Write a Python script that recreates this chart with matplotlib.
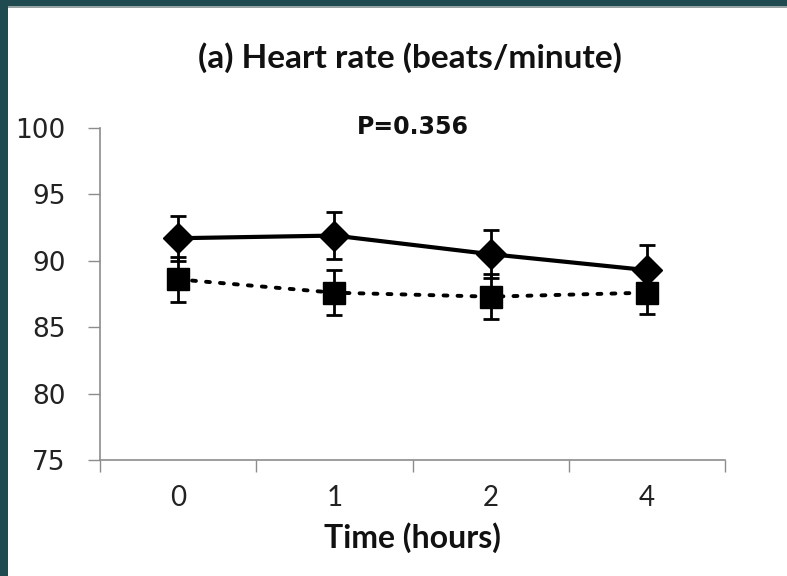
import matplotlib

matplotlib.use("Agg")
import matplotlib.pyplot as plt
from matplotlib.patches import Rectangle

# data
time_labels = ["0", "1", "2", "4"]
group_a_mean = [91.7, 91.9, 90.5, 89.3]
group_a_err = [1.7, 1.8, 1.8, 1.9]
group_b_mean = [88.6, 87.6, 87.3, 87.6]
group_b_err = [1.7, 1.7, 1.7, 1.6]
y_ticks = [75, 80, 85, 90, 95, 100]

BORDER = "#1f4a4f"
SPINE = "#8c8c8c"

fig = plt.figure(figsize=(7.87, 5.76), dpi=100)
fig.patch.set_facecolor("white")

# dark frame on the top and left edges
fig.patches.append(Rectangle((0, 1 - 6 / 576), 1, 6 / 576, transform=fig.transFigure,
                             facecolor=BORDER, edgecolor="none", zorder=0))
fig.patches.append(Rectangle((0, 1 - 8 / 576), 1, 2 / 576, transform=fig.transFigure,
                             facecolor="#9aa3a3", edgecolor="none", zorder=0))
fig.patches.append(Rectangle((0, 0), 8 / 787, 1, transform=fig.transFigure,
                             facecolor=BORDER, edgecolor="none", zorder=0))

ax = fig.add_axes([100 / 787, 1 - 460 / 576, 625 / 787, 332 / 576])
x_pos = list(range(len(time_labels)))

ax.errorbar(x_pos, group_b_mean, yerr=group_b_err, color="black", linestyle=(0, (1, 2.6)),
            linewidth=2.8, marker="s", markersize=16, capsize=6, capthick=2, elinewidth=2,
            dash_capstyle="round", zorder=3)
ax.errorbar(x_pos, group_a_mean, yerr=group_a_err, color="black", linestyle="-",
            linewidth=3, marker="D", markersize=15, capsize=6, capthick=2, elinewidth=2,
            zorder=4)

ax.set_xlim(-0.5, len(time_labels) - 0.5)
ax.set_ylim(75, 100)
ax.set_yticks(y_ticks)
ax.set_yticklabels([str(t) for t in y_ticks], fontsize=19, color="#222222",
                   family="DejaVu Sans")
ax.set_xticks(x_pos)
ax.set_xticklabels(time_labels, fontsize=20, color="#222222", family="Lato")
ax.set_xticks([i + 0.5 for i in range(-1, len(time_labels))], minor=True)

ax.tick_params(axis="y", direction="out", length=8.6, width=1, color=SPINE, pad=16)
ax.tick_params(axis="x", which="major", length=0, pad=18)
ax.tick_params(axis="x", which="minor", direction="out", length=8.6, width=1, color=SPINE)

for side in ["top", "right"]:
    ax.spines[side].set_visible(False)
for side in ["left", "bottom"]:
    ax.spines[side].set_color(SPINE)
    ax.spines[side].set_linewidth(1.2)

ax.set_xlabel("Time (hours)", fontsize=23, fontweight="bold", family="Lato",
              labelpad=8, color="#111111")

fig.text(410 / 787, 1 - 58 / 576, "(a) Heart rate (beats/minute)", ha="center", va="center",
         fontsize=24, fontweight="bold", family="Lato", color="#111111")
ax.text(1.5, 100.1, "P=0.356", ha="center", va="center", fontsize=17, fontweight="bold",
        family="DejaVu Sans", color="#111111")

fig.savefig("out.png", dpi=100, facecolor=fig.get_facecolor())
